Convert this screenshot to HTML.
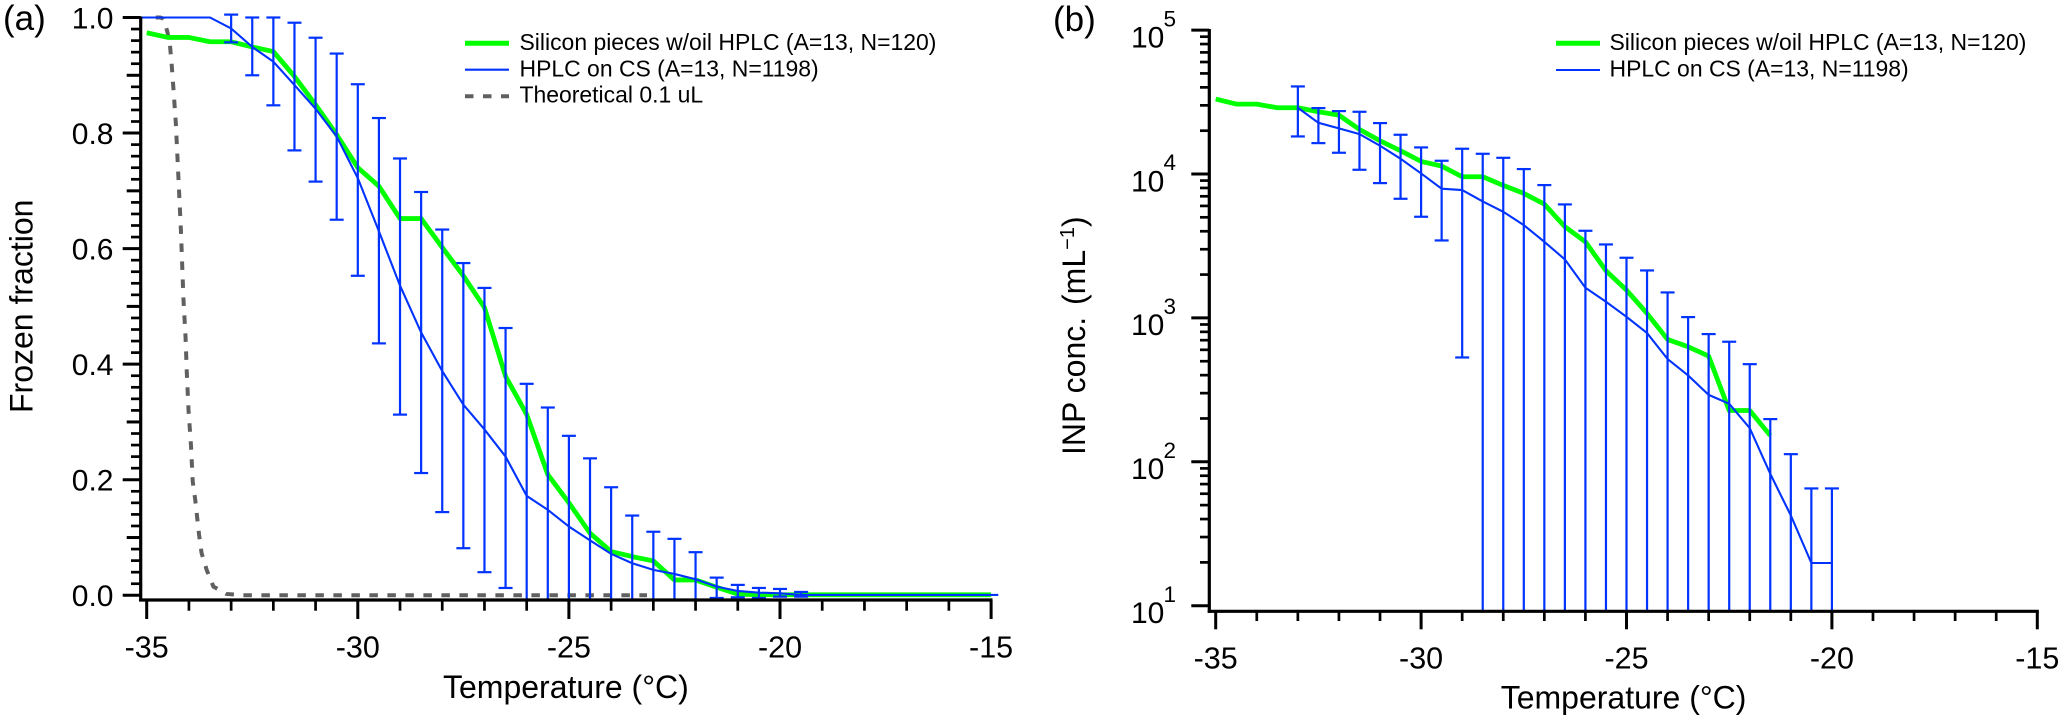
<!DOCTYPE html>
<html lang="en">
<head>
<meta charset="utf-8">
<title>Frozen fraction and INP concentration vs temperature</title>
<style>
html,body{margin:0;padding:0;background:#fff;}
svg{display:block;}
text{font-family:"Liberation Sans",Arial,sans-serif;fill:#000;}
</style>
</head>
<body>
<svg id="figure" xmlns="http://www.w3.org/2000/svg" width="2067" height="723" viewBox="0 0 2067 723">
  <rect x="0" y="0" width="2067" height="723" fill="#fff"/>
  <defs>
    <clipPath id="clip-a"><rect x="130" y="0" width="880" height="600"/></clipPath>
    <clipPath id="clip-b"><rect x="1205" y="0" width="850" height="611"/></clipPath>
  </defs>
  <g id="panel-a">
    <text x="3" y="30" font-size="35">(a)</text>
    <text transform="translate(32.7,413) rotate(-90)" font-size="32">Frozen fraction</text>
    <text x="443" y="698" font-size="32">Temperature (°C)</text>
    <g id="marks-a" clip-path="url(#clip-a)"></g>
    <g id="axes-a"></g>
    <g>
      <g>
        <line x1="465" x2="509" y1="43.3" y2="43.3" stroke="#00ff00" stroke-width="5"/>
        <text x="519.5" y="50" font-size="22.95">Silicon pieces w/oil HPLC (A=13, N=120)</text>
      </g>
      <g>
        <line x1="465" x2="509" y1="69.7" y2="69.7" stroke="#0033ff" stroke-width="2.1"/>
        <text x="519.5" y="76.3" font-size="22.95">HPLC on CS (A=13, N=1198)</text>
      </g>
      <g>
        <line x1="465" x2="509" y1="96.3" y2="96.3" stroke="#606060" stroke-width="4" stroke-dasharray="8.5 9.5"/>
        <text x="519.5" y="102.7" font-size="22.95">Theoretical 0.1 uL</text>
      </g>
    </g>
  </g>
  <g id="panel-b">
    <text x="1053" y="31" font-size="35">(b)</text>
    <text transform="translate(1085,455) rotate(-90)" font-size="32">INP conc. <tspan dx="3">(mL</tspan><tspan font-size="20" dy="-11">−1</tspan><tspan dy="11">)</tspan></text>
    <text x="1500.7" y="708.3" font-size="32">Temperature (°C)</text>
    <g id="marks-b" clip-path="url(#clip-b)"></g>
    <g id="axes-b"></g>
    <g>
      <g>
        <line x1="1556" x2="1600" y1="43.3" y2="43.3" stroke="#00ff00" stroke-width="5"/>
        <text x="1609.5" y="50" font-size="22.95">Silicon pieces w/oil HPLC (A=13, N=120)</text>
      </g>
      <g>
        <line x1="1556" x2="1600" y1="70" y2="70" stroke="#0033ff" stroke-width="2.1"/>
        <text x="1609.5" y="76.3" font-size="22.95">HPLC on CS (A=13, N=1198)</text>
      </g>
    </g>
  </g>
</svg>
<script>
// ---------- Panel (a) data ----------
const xTickLabelsA = [-35, -30, -25, -20, -15];
const yTickLabelsA = [0.0, 0.2, 0.4, 0.6, 0.8, 1.0];

const greenTempA = [-35,-34.5,-34,-33.5,-33,-32.5,-32,-31.5,-31,-30.5,-30,-29.5,-29,-28.5,-28,-27.5,-27,-26.5,-26,-25.5,-25,-24.5,-24,-23.5,-23,-22.5,-22,-21.5,-21,-20.5,-15];
const greenFracA = [0.9736,0.9655,0.9655,0.958,0.958,0.949,0.941,0.898,0.849,0.797,0.74,0.708,0.652,0.652,0.602,0.553,0.498,0.379,0.313,0.209,0.16,0.1075,0.0757,0.067,0.0595,0.0266,0.0266,0.014,0.002,0.001,0.001];

const blueTempA = [-35.15,-33.5,-33,-32.5,-32,-31.5,-31,-30.5,-30,-29.5,-29,-28.5,-28,-27.5,-27,-26.5,-26,-25.5,-25,-24.5,-24,-23.5,-23,-22.5,-22,-21.5,-21,-20.5,-20,-19.5,-14.83];
const blueFracA = [1.0,1.0,0.981,0.949,0.9236,0.883,0.842,0.794,0.722,0.63,0.536,0.455,0.388,0.33,0.287,0.24,0.172,0.148,0.119,0.095,0.0717,0.0555,0.044,0.037,0.0277,0.015,0.0075,0.0046,0.0035,0.0006,0.0006];

const errTempA = [-33,-32.5,-32,-31.5,-31,-30.5,-30,-29.5,-29,-28.5,-28,-27.5,-27,-26.5,-26,-25.5,-25,-24.5,-24,-23.5,-23,-22.5,-22,-21.5,-21,-20.5,-20,-19.5];
const errTopA = [1.005,1.0,1.0,0.991,0.965,0.9376,0.8845,0.826,0.756,0.698,0.633,0.575,0.532,0.4626,0.366,0.325,0.276,0.237,0.187,0.138,0.11,0.0977,0.0746,0.0306,0.018,0.0127,0.011,0.0058];
const errBottomA = [0.957,0.9,0.848,0.77,0.716,0.65,0.553,0.436,0.3127,0.2116,0.144,0.0815,0.04,0.0127,-0.022,-0.03,-0.04,-0.05,-0.04,-0.03,-0.02,-0.02,-0.02,-0.0046,-0.0035,-0.0046,-0.0023,-0.0023];

const greyTempA = [-35,-34.68,-34.6,-34.51,-34.45,-34.41,-34.37,-34.31,-34.25,-34.19,-34.13,-34.08,-34.05,-34.01,-33.95,-33.91,-33.85,-33.76,-33.70,-33.58,-33.42,-33.11,-32.71,-23.15];
const greyFracA = [1.0,1.0,0.998,0.975,0.953,0.92,0.88,0.817,0.725,0.632,0.513,0.447,0.385,0.321,0.258,0.197,0.165,0.105,0.073,0.044,0.015,0.0023,0,0];

// ---------- Panel (b) data ----------
const xTickLabelsB = [-35, -30, -25, -20, -15];
const yTickExponentsB = [1, 2, 3, 4, 5];

const greenTempB = [-35,-34.5,-34,-33.5,-33,-32.5,-32,-31.5,-31,-30.5,-30,-29.5,-29,-28.5,-28,-27.5,-27,-26.5,-26,-25.5,-25,-24.5,-24,-23.5,-23,-22.5,-22,-21.5];
const greenConcB = [33150,30600,30600,28860,28860,27060,25660,20400,17020,14500,12230,11350,9570,9570,8330,7330,6180,4300,3380,2126,1560,1074,708.6,630,542.6,227.3,227.3,152.4];

const blueTempB = [-33,-32.5,-32,-31.5,-31,-30.5,-30,-29.5,-29,-28.5,-28,-27.5,-27,-26.5,-26,-25.5,-25,-24.5,-24,-23.5,-23,-22.5,-22,-21.5,-21,-20.5,-20];
const blueConcB = [28860,22690,20740,18940,15710,12760,10090,7900,7730,6450,5465,4414,3380,2549,1620,1295,1018,785,517.6,398,292,253,171.4,82.5,42.4,19.8,19.8];
const errTopB = [40600,28710,27360,27070,22580,18740,15300,12360,14980,13820,12960,10820,8375,6146,4032,3239,2618,2137,1503,1013,772,683,477,198,113,65.3,65.3];
const errBottomB = [18240,16390,14050,10700,8644,6728,5045,3453,531,5,5,5,5,5,5,5,5,5,5,5,5,5,5,5,5,5,5];

// ---------- Scales ----------
function xA(t){ return 146.7 + (t + 35) * 42.22; }
function yA(v){ return 595.3 - 577.8 * v; }
function xB(t){ return 1215.7 + (t + 35) * 41.08; }
function yB(v){ return 605.7 - 143.9 * (Math.log10(v) - 1); }

// ---------- Helpers ----------
const NS = 'http://www.w3.org/2000/svg';
function shape(tag, parent, attrs){
  const el = document.createElementNS(NS, tag);
  for (const k in attrs) el.setAttribute(k, attrs[k]);
  parent.appendChild(el);
  return el;
}
function polyPoints(xs, ys, xf, yf){
  return xs.map(function(t, i){ return xf(t).toFixed(2) + ',' + yf(ys[i]).toFixed(2); }).join(' ');
}
function drawErrors(parent, temps, tops, bottoms, xf, yf){
  temps.forEach(function(t, i){
    const g = shape('g', parent, {stroke:'#0033ff', 'stroke-width':'2.2', fill:'none'});
    
    
    const x = xf(t), y1 = yf(tops[i]), y2 = yf(bottoms[i]);
    shape('line', g, {x1:x, x2:x, y1:y1, y2:y2});
    shape('line', g, {x1:x-7, x2:x+7, y1:y1, y2:y1});
    shape('line', g, {x1:x-7, x2:x+7, y1:y2, y2:y2});
  });
}
// Phase the dash pattern so a dash starts where the curve meets the flat tail.
function dashPhase(xs, ys, xf, yf, period){
  let len = 0;
  for (let i = 1; i < xs.length - 1; i++){
    len += Math.hypot(xf(xs[i]) - xf(xs[i-1]), yf(ys[i]) - yf(ys[i-1]));
  }
  return period - (len % period);
}

// ---------- Panel (a) marks ----------
const marksA = document.getElementById('marks-a');
const greyLineA = shape('polyline', marksA, {points:polyPoints(greyTempA, greyFracA, xA, yA), fill:'none', stroke:'#606060', 'stroke-width':'4', 'stroke-dasharray':'8.5 9.5', 'stroke-dashoffset':dashPhase(greyTempA, greyFracA, xA, yA, 18)});


const greenLineA = shape('polyline', marksA, {points:polyPoints(greenTempA, greenFracA, xA, yA), fill:'none', stroke:'#00ff00', 'stroke-width':'4.8', 'stroke-linejoin':'round'});


drawErrors(marksA, errTempA, errTopA, errBottomA, xA, yA);
const blueLineA = shape('polyline', marksA, {points:polyPoints(blueTempA, blueFracA, xA, yA), fill:'none', stroke:'#0033ff', 'stroke-width':'2.1'});



// ---------- Panel (a) axes ----------
const axesA = document.getElementById('axes-a');
const yTickGroupA = shape('g', axesA, {stroke:'#000'});


for (let i = 0; i <= 50; i++){
  const v = i / 50;
  const len = i % 10 === 0 ? 18 : (i % 5 === 0 ? 14 : 9.7);
  shape('line', yTickGroupA, {x1:140.7 - len, x2:140.7, y1:yA(v), y2:yA(v), 'stroke-width': i % 5 === 0 ? 3 : 2.7});
}
const xTickGroupA = shape('g', axesA, {stroke:'#000'});


for (let t = -35; t <= -15; t++){
  const major = (t + 35) % 5 === 0;
  shape('line', xTickGroupA, {x1:xA(t), x2:xA(t), y1:600, y2:major ? 619 : 610.7, 'stroke-width': major ? 3 : 2.7});
}
const yAxisA = shape('line', axesA, {x1:140.7, x2:140.7, y1:16.5, y2:601.5, stroke:'#000', 'stroke-width':'3.2'});


const xAxisA = shape('line', axesA, {x1:139.1, x2:992.5, y1:600, y2:600, stroke:'#000', 'stroke-width':'3.2'});


yTickLabelsA.forEach(function(v){
  const el = shape('text', axesA, {x:113.5, y:yA(v) + 10.8, 'font-size':'30', 'text-anchor':'end'});
  el.textContent = v.toFixed(1);
  
  
});
xTickLabelsA.forEach(function(t){
  const el = shape('text', axesA, {x:xA(t), y:657.7, 'font-size':'30.5', 'text-anchor':'middle'});
  el.textContent = String(t);
  
  
});

// ---------- Panel (b) marks ----------
const marksB = document.getElementById('marks-b');
const greenLineB = shape('polyline', marksB, {points:polyPoints(greenTempB, greenConcB, xB, yB), fill:'none', stroke:'#00ff00', 'stroke-width':'4.8', 'stroke-linejoin':'round'});


drawErrors(marksB, blueTempB, errTopB, errBottomB, xB, yB);
const blueLineB = shape('polyline', marksB, {points:polyPoints(blueTempB, blueConcB, xB, yB), fill:'none', stroke:'#0033ff', 'stroke-width':'2.1'});



// ---------- Panel (b) axes ----------
const axesB = document.getElementById('axes-b');
const yTickGroupB = shape('g', axesB, {stroke:'#000'});


yTickExponentsB.forEach(function(e){
  const base = Math.pow(10, e);
  shape('line', yTickGroupB, {x1:1191.3, x2:1209.3, y1:yB(base), y2:yB(base), 'stroke-width':'3'});
  if (e < 5){
    for (let m = 2; m <= 9; m++){
      shape('line', yTickGroupB, {x1:1200, x2:1209.3, y1:yB(base * m), y2:yB(base * m), 'stroke-width':'2.7'});
    }
  }
});
const xTickGroupB = shape('g', axesB, {stroke:'#000'});


for (let t = -35; t <= -15; t++){
  const major = (t + 35) % 5 === 0;
  shape('line', xTickGroupB, {x1:xB(t), x2:xB(t), y1:611.3, y2:major ? 629.3 : 621, 'stroke-width': major ? 3 : 2.7});
}
const yAxisB = shape('line', axesB, {x1:1209.3, x2:1209.3, y1:29, y2:612.9, stroke:'#000', 'stroke-width':'3.2'});


const xAxisB = shape('line', axesB, {x1:1207.7, x2:2038.8, y1:611.3, y2:611.3, stroke:'#000', 'stroke-width':'3.2'});


yTickExponentsB.forEach(function(e){
  const y = yB(Math.pow(10, e));
  const base = shape('text', axesB, {x:1131, y:y + 17.3, 'font-size':'30'});
  base.textContent = '10';
  
  
  const exp = shape('text', axesB, {x:1163.5, y:y - 3.8, 'font-size':'22.5'});
  exp.textContent = String(e);
  
  
});
xTickLabelsB.forEach(function(t){
  const el = shape('text', axesB, {x:xB(t), y:668.3, 'font-size':'30.5', 'text-anchor':'middle'});
  el.textContent = String(t);
  
  
});
</script>
</body>
</html>
